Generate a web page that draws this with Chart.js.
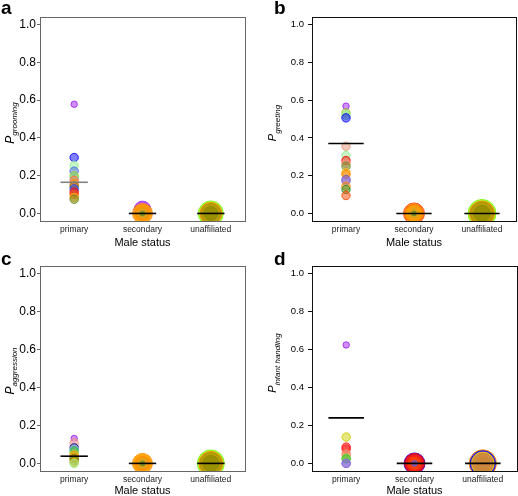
<!DOCTYPE html>
<html>
<head>
<meta charset="utf-8">
<script src="https://cdn.jsdelivr.net/npm/chart.js@4.4.1/dist/chart.umd.min.js"></script>
<style>
  body { margin: 0; background: #fff; font-family: "Liberation Sans", Arial, sans-serif; }
  #wrap { position: relative; width: 518px; height: 496px; overflow: hidden; }
  .panel { position: absolute; width: 259px; height: 248px; }
  .letter { position: absolute; font-weight: bold; font-size: 19px; line-height: 19px; }
  .ytitle { position: absolute; transform: translate(-50%, -50%) rotate(-90deg); white-space: nowrap; font-size: 12px; }
  .ytitle sub { font-size: 8px; font-style: italic; }
</style>
</head>
<body>
<div id="wrap">
  <div class="panel" style="left:0;top:0"><canvas id="chartA" width="259" height="248"></canvas></div>
  <div class="panel" style="left:259px;top:0"><canvas id="chartB" width="259" height="248"></canvas></div>
  <div class="panel" style="left:0;top:248px"><canvas id="chartC" width="259" height="248"></canvas></div>
  <div class="panel" style="left:259px;top:248px"><canvas id="chartD" width="259" height="248"></canvas></div>

  <div class="letter" style="left:1px;top:-2px">a</div>
  <div class="letter" style="left:274px;top:-2px">b</div>
  <div class="letter" style="left:1px;top:249px">c</div>
  <div class="letter" style="left:274px;top:249px">d</div>

  <div class="ytitle" style="left:11px;top:123px"><i>P</i><sub>grooming</sub></div>
  <div class="ytitle" style="left:274px;top:123px;font-size:11px"><i>P</i><sub>greeting</sub></div>
  <div class="ytitle" style="left:11px;top:371px"><i>P</i><sub>aggression</sub></div>
  <div class="ytitle" style="left:274px;top:363px;font-size:11px"><i>P</i><sub>infant handling</sub></div>
</div>
<script>
const categories = ['primary', 'secondary', 'unaffiliated'];
const yTicks = [0, 0.2, 0.4, 0.6, 0.8, 1.0];

// a: grooming
const groomingPrimary = [0.578, 0.296, 0.254, 0.224, 0.2, 0.19, 0.175, 0.155, 0.144, 0.13, 0.113, 0.1, 0.085, 0.075];
const groomingSecondary = [0.02, 0, 0, 0, 0, 0];
const groomingUnaffiliated = [0, 0, 0, 0];
const groomingMedians = [0.165, 0, 0];

// b: greeting
const greetingPrimary = [0.568, 0.533, 0.52, 0.506, 0.356, 0.307, 0.28, 0.265, 0.25, 0.215, 0.206, 0.18, 0.171, 0.144, 0.127, 0.095];
const greetingSecondary = [0, 0, 0, 0, 0];
const greetingUnaffiliated = [0, 0, 0, 0];
const greetingMedians = [0.37, 0, 0];

// c: aggression
const aggressionPrimary = [0.131, 0.108, 0.095, 0.082, 0.075, 0.064, 0.05, 0.043, 0.03, 0.025, 0.015, 0.005, 0.0];
const aggressionSecondary = [0, 0, 0, 0, 0];
const aggressionUnaffiliated = [0, 0, 0, 0];
const aggressionMedians = [0.038, 0, 0];

// d: infant handling
const infantPrimary = [0.624, 0.139, 0.086, 0.075, 0.051, 0.045, 0.028, 0.024, 0.0, 0.0];
const infantSecondary = [0, 0, 0, 0, 0];
const infantUnaffiliated = [0, 0, 0, 0, 0];
const infantMedians = [0.24, 0, 0];

// colours and sizes of the marks
const groomingPrimaryColors = ['#a020f0', '#0000ff', '#90ee90', '#4169e1', '#9acd32', '#7fd87f', '#ff6347', '#ff8c00', '#8b6914', '#1e3cff', '#ff0000', '#ff4500', '#ffa500', '#6b8e23'];
const groomingSecondaryColors = ['#a020f0', '#ff8c00', '#ffa500', '#ff8c00', '#daa520', '#6b8e23'];
const groomingSecondarySizes = [8.5, 10, 8.5, 7, 5, 2.5];
const groomingUnaffiliatedColors = ['#7cfc00', '#ff8c00', '#a89400', '#8c8c00'];
const groomingUnaffiliatedSizes = [12.5, 11, 10, 7];

const greetingPrimaryColors = ['#a020f0', '#9acd32', '#90ee90', '#0000ff', '#e9967a', '#90ee90', '#ff0000', '#e9967a', '#6b8e23', '#ffa500', '#ff8c00', '#6a5acd', '#9370db', '#ff8c00', '#228b22', '#ff4500'];
const greetingSecondaryColors = ['#ff4500', '#ff8c00', '#ffa500', '#daa520', '#6b8e23'];
const greetingSecondarySizes = [10.5, 9.5, 7.5, 5, 2.5];
const greetingUnaffiliatedColors = ['#7cfc00', '#ff8c00', '#a89400', '#8c8c00'];
const greetingUnaffiliatedSizes = [14, 12.5, 11.5, 8];

const aggressionPrimaryColors = ['#a020f0', '#e9967a', '#ffb6c1', '#000080', '#87ceeb', '#32cd32', '#9acd32', '#ffa500', '#ff8c00', '#808000', '#6b8e23', '#ffa500', '#90ee90'];
const aggressionSecondaryColors = ['#ff8c00', '#ffa500', '#ff8c00', '#daa520', '#6b8e23'];
const aggressionSecondarySizes = [10, 9, 7, 5, 2.5];
const aggressionUnaffiliatedColors = ['#7cfc00', '#ff8c00', '#a89400', '#8c8c00'];
const aggressionUnaffiliatedSizes = [13.5, 12, 11, 8];

const infantPrimaryColors = ['#a020f0', '#cdcd00', '#ff0000', '#ff2020', '#ff7f50', '#e9967a', '#9acd32', '#32cd32', '#6a5acd', '#9370db'];
const infantSecondaryColors = ['#0000ff', '#ff0000', '#ff2a00', '#ff4500', '#6a5acd'];
const infantSecondarySizes = [10.5, 10, 8, 6, 3];
const infantUnaffiliatedColors = ['#ff8c00', '#0000ff', '#ffd700', '#cd853f', '#cd853f'];
const infantUnaffiliatedSizes = [13.7, 12.7, 11.3, 10.3, 7];

Chart.defaults.color = '#000';
Chart.defaults.font.family = '"Liberation Sans", Arial, sans-serif';

function rgba(hex, a) {
  const n = parseInt(hex.slice(1), 16);
  return `rgba(${(n >> 16) & 255}, ${(n >> 8) & 255}, ${n & 255}, ${a})`;
}

function pointsDataset(xIndex, values, colors, sizes, alpha) {
  return {
    type: 'scatter',
    data: values.map(v => ({ x: xIndex + 1, y: v })),
    backgroundColor: colors.map(c => rgba(c, alpha)),
    borderColor: colors.map(c => rgba(c, 0.85)),
    borderWidth: 1,
    pointRadius: sizes,
    clip: 0,
    order: 1
  };
}

function medianDataset(xIndex, value, halfWidth, color) {
  return {
    type: 'line',
    data: [{ x: xIndex + 1 - halfWidth, y: value }, { x: xIndex + 1 + halfWidth, y: value }],
    borderColor: color,
    borderWidth: 1.6,
    pointRadius: 0,
    clip: 0,
    order: 0
  };
}

const boxPlugin = {
  id: 'box',
  afterDraw(chart, args, opts) {
    const { left, top, right, bottom } = chart.chartArea;
    const ctx = chart.ctx;
    ctx.save();
    ctx.strokeStyle = opts.color;
    ctx.lineWidth = 1;
    ctx.strokeRect(Math.round(left) + 0.5, Math.round(top) + 0.5, Math.round(right - left), Math.round(bottom - top));
    ctx.restore();
  }
};

function makePanel(id, p) {
  const datasets = [
    pointsDataset(0, p.primary, p.primaryColors, p.primary.map((v, i) => i === 0 ? 3.2 : 4.2), 0.5),
    pointsDataset(1, p.secondary, p.secondaryColors, p.secondarySizes, 0.75),
    pointsDataset(2, p.unaffiliated, p.unaffiliatedColors, p.unaffiliatedSizes, 0.7)
  ];
  p.medians.forEach((m, i) => {
    datasets.push(medianDataset(i, m, p.halfWidth, i === 0 ? p.firstMedianColor : '#000'));
  });

  new Chart(document.getElementById(id), {
    type: 'scatter',
    data: { datasets },
    plugins: [boxPlugin],
    options: {
      responsive: false,
      animation: false,
      layout: { autoPadding: false, padding: { left: 0, right: 259 - p.right, top: p.top, bottom: 0 } },
      plugins: {
        legend: { display: false },
        tooltip: { enabled: false },
        box: { color: p.boxColor }
      },
      scales: {
        x: {
          type: 'linear',
          min: 0.5,
          max: 3.5,
          afterFit: s => {
            s.height = 248 - p.bottom;
            s.paddingLeft = 0;
            s.paddingRight = 0;
          },
          afterBuildTicks: s => { s.ticks = categories.map((c, i) => ({ value: i + 1 })); },
          ticks: {
            font: { size: 8.5 },
            padding: 4,
            maxRotation: 0,
            color: '#222',
            callback: v => categories[v - 1]
          },
          grid: { display: false, drawTicks: false, tickLength: 0 },
          border: { display: false },
          title: {
            display: true,
            text: 'Male status',
            font: { size: 11 },
            padding: { top: 0, bottom: -1.5 }
          }
        },
        y: {
          min: -0.04,
          max: 1.04,
          afterFit: s => {
            s.width = p.left;
            s.paddingTop = 0;
            s.paddingBottom = 0;
          },
          afterBuildTicks: s => { s.ticks = yTicks.map(v => ({ value: v })); },
          ticks: {
            font: { size: p.yFont },
            padding: p.yPad,
            callback: v => v.toFixed(1)
          },
          grid: { drawOnChartArea: false, tickLength: p.tickLen, color: p.boxColor },
          border: { display: false }
        }
      }
    }
  });
}

makePanel('chartA', {
  primary: groomingPrimary, primaryColors: groomingPrimaryColors,
  secondary: groomingSecondary, secondaryColors: groomingSecondaryColors, secondarySizes: groomingSecondarySizes,
  unaffiliated: groomingUnaffiliated, unaffiliatedColors: groomingUnaffiliatedColors, unaffiliatedSizes: groomingUnaffiliatedSizes,
  medians: groomingMedians, halfWidth: 0.2, firstMedianColor: '#808080',
  left: 40, right: 245, top: 17, bottom: 221, boxColor: '#666', yFont: 12, yPad: 1, tickLen: 3
});

makePanel('chartB', {
  primary: greetingPrimary, primaryColors: greetingPrimaryColors,
  secondary: greetingSecondary, secondaryColors: greetingSecondaryColors, secondarySizes: greetingSecondarySizes,
  unaffiliated: greetingUnaffiliated, unaffiliatedColors: greetingUnaffiliatedColors, unaffiliatedSizes: greetingUnaffiliatedSizes,
  medians: greetingMedians, halfWidth: 0.26, firstMedianColor: '#000',
  left: 53, right: 257, top: 17, bottom: 221, boxColor: '#111', yFont: 9.5, yPad: 4, tickLen: 4
});

makePanel('chartC', {
  primary: aggressionPrimary, primaryColors: aggressionPrimaryColors,
  secondary: aggressionSecondary, secondaryColors: aggressionSecondaryColors, secondarySizes: aggressionSecondarySizes,
  unaffiliated: aggressionUnaffiliated, unaffiliatedColors: aggressionUnaffiliatedColors, unaffiliatedSizes: aggressionUnaffiliatedSizes,
  medians: aggressionMedians, halfWidth: 0.2, firstMedianColor: '#000',
  left: 40, right: 245, top: 18, bottom: 223, boxColor: '#666', yFont: 12, yPad: 1, tickLen: 3
});

makePanel('chartD', {
  primary: infantPrimary, primaryColors: infantPrimaryColors,
  secondary: infantSecondary, secondaryColors: infantSecondaryColors, secondarySizes: infantSecondarySizes,
  unaffiliated: infantUnaffiliated, unaffiliatedColors: infantUnaffiliatedColors, unaffiliatedSizes: infantUnaffiliatedSizes,
  medians: infantMedians, halfWidth: 0.26, firstMedianColor: '#000',
  left: 53, right: 258, top: 18, bottom: 223, boxColor: '#111', yFont: 9.5, yPad: 4, tickLen: 4
});
</script>
</body>
</html>
